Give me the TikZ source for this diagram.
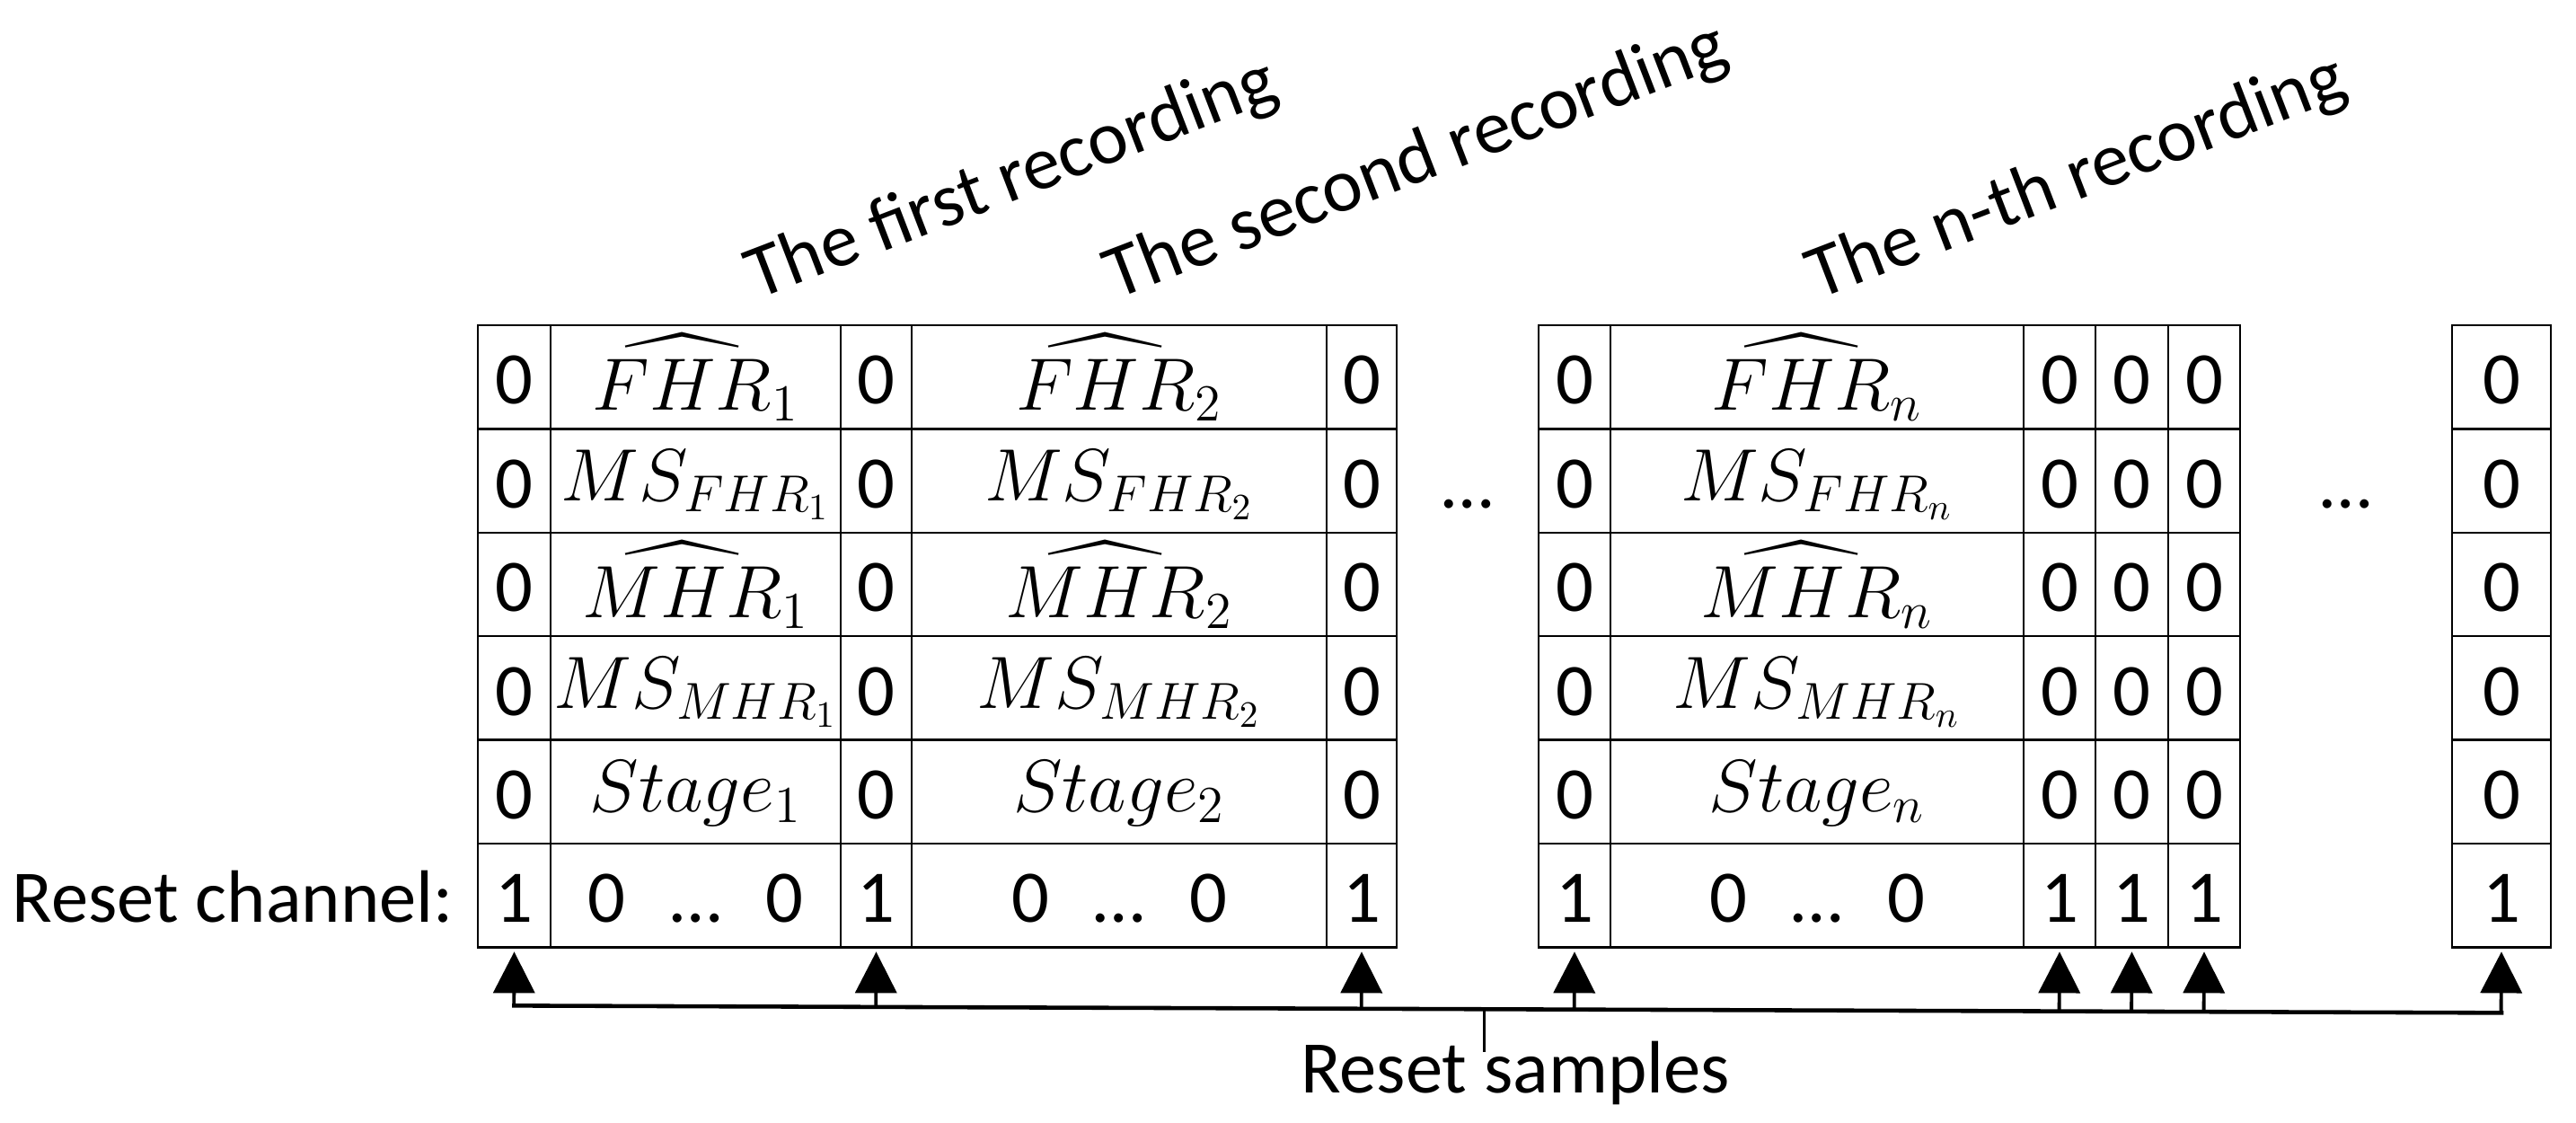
\RequirePackage{fix-cm}
\documentclass[tikz,border=0pt]{standalone}
\usepackage{exscale}
\usepackage{fontspec}
\setmainfont{Carlito}
\usetikzlibrary{arrows.meta,calc}

\tikzset{
  cell/.style={draw,line width=0.7pt,anchor=north west,inner sep=0pt,outer sep=0pt,
    minimum height=1.154cm,text height=0.88cm,text depth=0.274cm},
  mcell/.style={cell,text height=0.80cm,text depth=0.354cm},
  hcell/.style={cell,text height=0.944cm,text depth=0.21cm},
  up/.style={line width=1.1pt,-{Triangle[length=0.46cm,width=0.46cm]}},
  bus/.style={line width=1.3pt},
  rec/.style={anchor=base west,rotate=21,font=\fontsize{24}{29}\selectfont}
}

\begin{document}
\begin{tikzpicture}[font=\fontsize{23.5}{28}\selectfont]
\useasboundingbox (0,0) rectangle (28.68,12.5);

\foreach \x/\w/\c in {5.32/0.81/z1,9.36/0.79/z2,14.77/0.78/z3,17.13/0.80/z4,22.53/0.80/z5,23.33/0.81/z6,24.14/0.80/z7,27.30/1.10/z8}{
  \foreach \r in {1,...,5}
    \node[cell,minimum width=\w cm] (\c-\r) at (\x,{8.88-(\r-1)*1.154}) {0};
  \node[cell,minimum width=\w cm] (\c-6) at (\x,3.11) {1};
}

\foreach \x/\w/\c/\k in {6.13/3.23/w1/1,10.15/4.62/w2/2,17.93/4.60/w3/n}{
  \node[hcell,minimum width=\w cm] (\c-1) at (\x,8.88) {$\widehat{FHR}_\k$};
  \node[mcell,minimum width=\w cm] (\c-2) at (\x,7.726) {$MS_{FHR_\k}$};
  \node[hcell,minimum width=\w cm] (\c-3) at (\x,6.572) {$\widehat{MHR}_\k$};
  \node[mcell,minimum width=\w cm] (\c-4) at (\x,5.418) {$MS_{MHR_\k}$};
  \node[mcell,minimum width=\w cm] (\c-5) at (\x,4.264) {$Stage_\k$};
  \node[cell,minimum width=\w cm] (\c-6) at (\x,3.11) {0\hspace{0.6em}…\hspace{0.6em}0};
}

\node[anchor=base] (dots1) at ($(z3-2.base east)!0.5!(z4-2.base west)$) {…};
\node[anchor=base] (dots2) at ($(z7-2.base east)!0.5!(z8-2.base west)$) {…};

\node[anchor=base east] (rch) at ([xshift=-0.15cm]z1-6.base west) {Reset channel:};

\node[rec] (rec1) at (8.32,9.12) {The first recording};
\node[rec] (rec2) at (12.31,9.12) {The second recording};
\node[rec] (recn) at (20.13,9.12) {The n-th recording};

% reset samples
\coordinate (bl) at ([yshift=-0.65cm]z1-6.south);
\coordinate (br) at ([yshift=-0.73cm]z8-6.south);
\draw[bus,line cap=rect] (bl) -- (br);
\foreach \c in {z1,z2,z3,z4,z5,z6,z7,z8}
  \draw[up] ($(bl)!(\c-6.south)!(br)$) -- ([yshift=-0.05cm]\c-6.south);

\coordinate (tk) at ($(bl)!0.488!(br)$);
\coordinate (tkend) at ([yshift=-0.48cm]tk);
\draw[line width=0.8pt] (tk) -- (tkend);
\node[anchor=base] (rs) at (16.87,0.33) {Reset samples};
\end{tikzpicture}
\end{document}
